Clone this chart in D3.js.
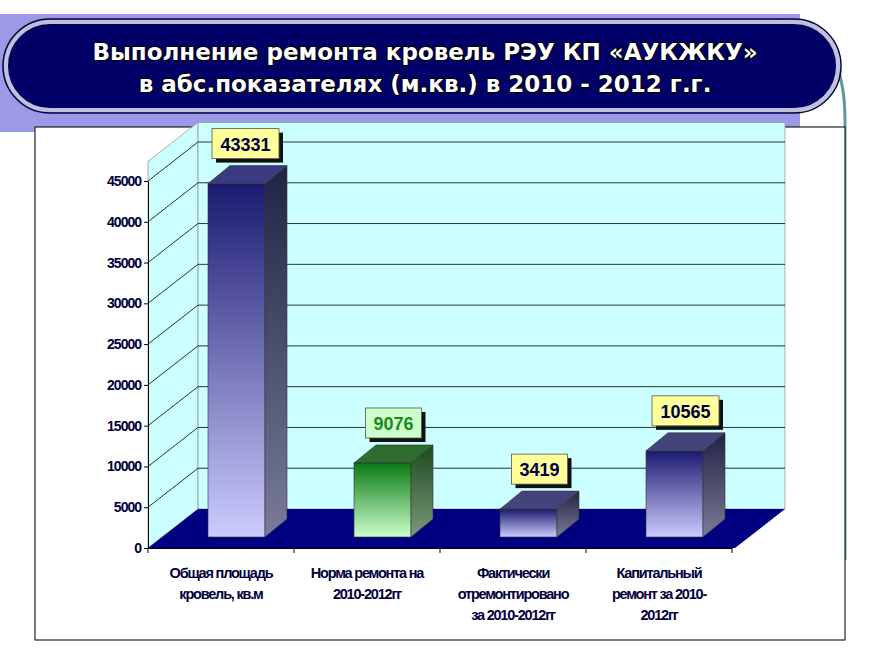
<!DOCTYPE html><html><head><meta charset="utf-8"><script src="https://cdn.jsdelivr.net/npm/d3@7"></script>
<style>body{margin:0;background:#fff}</style></head><body><svg id="c" width="890" height="667"></svg>
<script>
const categories=[["Общая площадь","кровель, кв.м"],["Норма ремонта на","2010-2012гг"],["Фактически","отремонтировано","за 2010-2012гг"],["Капитальный","ремонт за 2010-","2012гг"]];
const values=[43331,9076,3419,10565];
const tickValues=[0,5000,10000,15000,20000,25000,30000,35000,40000,45000];
const svg=d3.select("#c");
const defs=svg.append("defs");
svg.append("rect").attr("x",0).attr("y",14).attr("width",800).attr("height",118).attr("fill","#9a9ae6");
svg.append("path").attr("d","M780,20 Q845,30 845,120 L845,560").attr("fill","none").attr("stroke","#5a9a9a").attr("stroke-width",3);
svg.append("rect").attr("x",6).attr("y",22).attr("width",832).attr("height",88).attr("rx",44).attr("fill","#000066").attr("stroke","#c0c0d8").attr("stroke-width",4);
svg.append("rect").attr("x",3).attr("y",19).attr("width",838).attr("height",94).attr("rx",47).attr("fill","none").attr("stroke","#000044").attr("stroke-width",1.5);
const tt=svg.append("text").attr("text-anchor","middle").attr("fill","#fff").attr("font-family","Verdana, DejaVu Sans").attr("font-weight","bold").attr("font-size",23).attr("style","paint-order:stroke").attr("stroke","#000").attr("stroke-width",2);
tt.append("tspan").attr("x",425).attr("y",60).text("Выполнение ремонта кровель РЭУ КП «АУКЖКУ»");
tt.append("tspan").attr("x",425).attr("y",92).text("в абс.показателях (м.кв.) в 2010 - 2012 г.г.");
svg.append("rect").attr("x",35).attr("y",127).attr("width",810).attr("height",513).attr("fill","#fff").attr("stroke","#222").attr("stroke-width",1.2);
const x0=148,x1=732,yB=548,yT=181,DX=50,DY=-39;
const x=d3.scaleBand().domain(d3.range(values.length)).range([x0,x1]);
const y=d3.scaleLinear().domain([0,45000]).range([yB,yT]);
svg.append("polygon").attr("points",`${x0},${yB} ${x0+DX},${yB+DY} ${x0+DX},${y(47400)+DY} ${x0},${y(47400)}`).attr("fill","#ccffff").attr("stroke","#999").attr("stroke-width",0.8);
svg.append("rect").attr("x",x0+DX).attr("y",y(47400)+DY).attr("width",x1-x0+3).attr("height",yB-y(47400)).attr("fill","#ccffff").attr("stroke","#999").attr("stroke-width",0.8);
tickValues.slice(1).forEach(v=>{
 svg.append("line").attr("x1",x0).attr("y1",y(v)).attr("x2",x0+DX).attr("y2",y(v)+DY).attr("stroke","#000").attr("stroke-width",0.8);
 svg.append("line").attr("x1",x0+DX).attr("y1",y(v)+DY).attr("x2",x1+DX+3).attr("y2",y(v)+DY).attr("stroke","#000").attr("stroke-width",0.8);
});
svg.append("polygon").attr("points",`${x0},${yB} ${x0+DX},${yB+DY} ${x1+DX+3},${yB+DY} ${x1+3},${yB}`).attr("fill","#000080");
const ya=svg.append("g").attr("transform",`translate(${x0},0)`).call(d3.axisLeft(y).tickValues(tickValues).tickFormat(d3.format("d")).tickSize(4).tickSizeOuter(0));
ya.selectAll("text").attr("font-family","Liberation Sans, Arial").attr("font-weight","bold").attr("font-size",14).attr("fill","#000040").attr("letter-spacing","-1");
ya.select(".domain").attr("stroke","#000");
const xa=svg.append("g").attr("transform",`translate(0,${yB})`).call(d3.axisBottom(x).tickSize(0).tickFormat(""));
xa.select(".domain").attr("stroke","#000");
[x0,...values.map((d,i)=>x(i)+x.bandwidth())].forEach(v=>svg.append("line").attr("x1",v).attr("x2",v).attr("y1",yB).attr("y2",yB+5).attr("stroke","#000"));
const schemes=[["#1a1a70","#ccccff","#222244"],["#0a7a14","#ccffcc","#1e4a1e"],["#1a1a70","#ccccff","#222244"],["#1a1a70","#ccccff","#222244"]];
schemes.forEach((s,i)=>{const g=defs.append("linearGradient").attr("id","g"+i).attr("x1",0).attr("y1",0).attr("x2",0).attr("y2",1);
g.append("stop").attr("offset",0).attr("stop-color",s[0]);g.append("stop").attr("offset",1).attr("stop-color",s[1]);
const h=defs.append("linearGradient").attr("id","h"+i).attr("x1",0).attr("y1",0).attr("x2",0).attr("y2",1);
h.append("stop").attr("offset",0).attr("stop-color",s[2]);h.append("stop").attr("offset",1).attr("stop-color",i==1?"#7a9a7a":"#7a7a9a");});
const bw=57,bdx=22,bdy=-18,off=-11;
values.forEach((v,i)=>{
 const bx=x(i)+60,by=y(v)+off,bb=yB+off;
 svg.append("rect").attr("x",bx).attr("y",by).attr("width",bw).attr("height",bb-by).attr("fill",`url(#g${i})`).attr("stroke","#333").attr("stroke-width",0.6);
 svg.append("polygon").attr("points",`${bx+bw},${by} ${bx+bw+bdx},${by+bdy} ${bx+bw+bdx},${bb+bdy} ${bx+bw},${bb}`).attr("fill",`url(#h${i})`).attr("stroke","#333").attr("stroke-width",0.6);
 svg.append("polygon").attr("points",`${bx},${by} ${bx+bdx},${by+bdy} ${bx+bw+bdx},${by+bdy} ${bx+bw},${by}`).attr("fill",i==1?"#2f6a2f":(i==0?"#3a3a80":"#44447a")).attr("stroke","#333").attr("stroke-width",0.6);
 const txt=String(v),w=txt.length*11+12,lx=bx+bw/2+bdx/2-w/2+(i==0?-2:0),ly=by+bdy-37;
 svg.append("rect").attr("x",lx+4).attr("y",ly+4).attr("width",w).attr("height",30).attr("fill","#111");
 svg.append("rect").attr("x",lx).attr("y",ly).attr("width",w).attr("height",30).attr("fill",i==1?"#ccffcc":"#ffff99").attr("stroke","#555").attr("stroke-width",0.8);
 svg.append("text").attr("x",lx+w/2).attr("y",ly+22).attr("text-anchor","middle").attr("font-family","Liberation Sans, Arial").attr("font-weight","bold").attr("font-size",18).attr("fill",i==1?"#1a8a1a":"#000040").text(txt);
 const t=svg.append("text").attr("text-anchor","middle").attr("font-family","Liberation Sans, Arial").attr("font-weight","bold").attr("font-size",14.5).attr("letter-spacing","-1.2").attr("fill","#000040");
 categories[i].forEach((l,k)=>t.append("tspan").attr("x",x(i)+x.bandwidth()/2).attr("y",yB+30+k*21).text(l));
});
</script></body></html>
